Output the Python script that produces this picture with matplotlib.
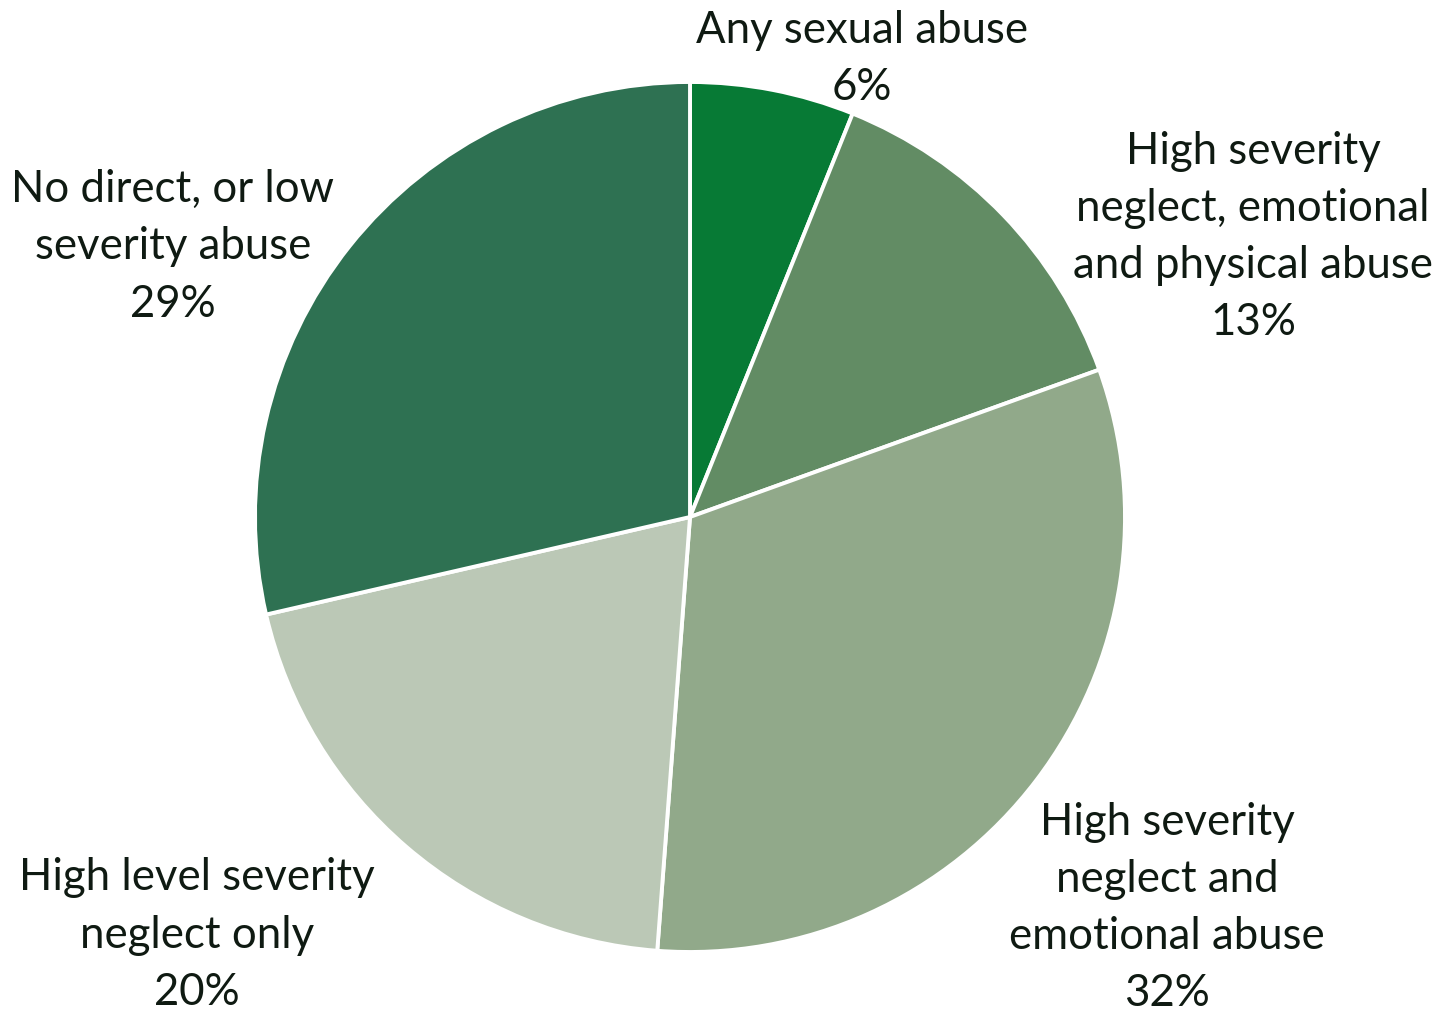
import matplotlib.pyplot as plt

categories = [
    "Any sexual abuse",
    "High severity\nneglect, emotional\nand physical abuse",
    "High severity\nneglect and\nemotional abuse",
    "High level severity\nneglect only",
    "No direct, or low\nseverity abuse",
]
shares = [6.1, 13.4, 31.7, 20.2, 28.6]
pct_labels = ["6%", "13%", "32%", "20%", "29%"]
colors = ["#077a35", "#628c64", "#91a98a", "#bbc8b6", "#2e7152"]

# label centres, in units of the pie radius
label_pos = [(0.395, 1.053), (1.294, 0.644), (1.097, -0.899),
             (-1.133, -0.961), (-1.189, 0.621)]

fig = plt.figure(figsize=(14.47, 10.15), dpi=100)
ax = fig.add_axes([0, 0, 1, 1])

ax.pie(shares, colors=colors, startangle=90, counterclock=False, radius=1,
       wedgeprops=dict(edgecolor="white", linewidth=2.8))

for name, pct, (x, y) in zip(categories, pct_labels, label_pos):
    ax.text(x, y, name + "\n" + pct, ha="center", va="center",
            fontsize=31.5, family="Lato", color="#0f1a12", linespacing=1.49)

# centre at (690, 517) px, radius 435 px
r = 435
ax.set_xlim(-690 / r, (1447 - 690) / r)
ax.set_ylim((517 - 1015) / r, 517 / r)
ax.set_aspect("auto")
ax.axis("off")

plt.savefig("out.png", dpi=100)
